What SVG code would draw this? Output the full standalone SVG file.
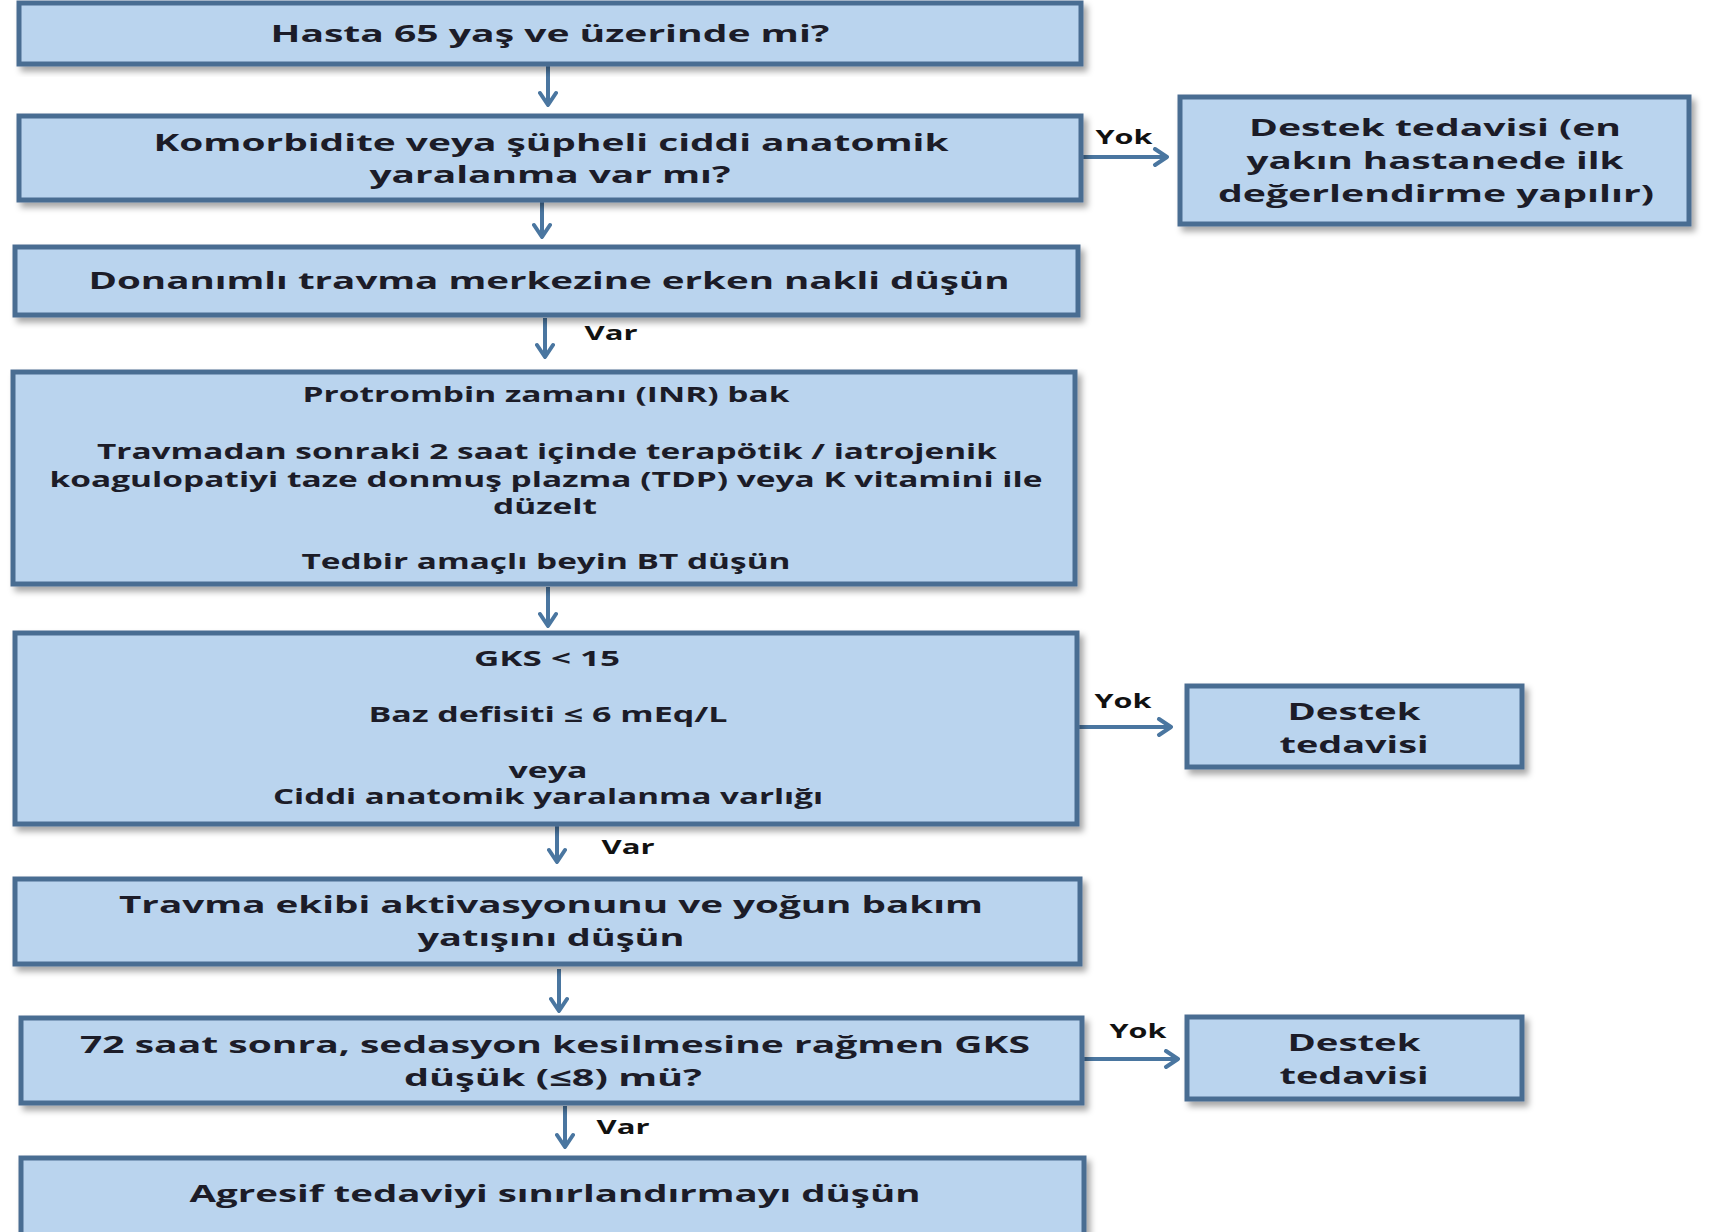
<svg xmlns="http://www.w3.org/2000/svg" width="1729" height="1232" viewBox="0 0 1729 1232">
<defs>
<filter id="sh" x="-5%" y="-10%" width="110%" height="130%">
<feDropShadow dx="4" dy="5" stdDeviation="3" flood-color="#000" flood-opacity="0.35"/>
</filter>
<marker id="ah" viewBox="0 0 20 20" refX="18" refY="10" markerWidth="20" markerHeight="20" markerUnits="userSpaceOnUse" orient="auto">
<polyline points="6,2 18,10 6,18" fill="none" stroke="#4a76a0" stroke-width="4" stroke-linecap="round" stroke-linejoin="round"/>
</marker>
</defs>
<style>
.box{fill:#bad4ee;stroke:#4a6d92;stroke-width:5;filter:url(#sh)}
.t{font-family:"Open Sans","Noto Sans","DejaVu Sans",sans-serif;font-weight:700;font-size:24px;fill:#1c1c28;text-anchor:middle}
.s{font-size:21px}
.lb{font-family:"Open Sans","Noto Sans","DejaVu Sans",sans-serif;font-weight:700;font-size:19px;fill:#111;text-anchor:middle}
.c{stroke:#4a76a0;stroke-width:4;fill:none;marker-end:url(#ah)}
</style>
<rect width="1729" height="1232" fill="#fff"/>
<g id="connectors">
<line class="c" x1="548" y1="66" x2="548" y2="105"/>
<line class="c" x1="1081" y1="157" x2="1167" y2="157"/>
<line class="c" x1="542" y1="202" x2="542" y2="237"/>
<line class="c" x1="545" y1="318" x2="545" y2="357"/>
<line class="c" x1="548" y1="587" x2="548" y2="626"/>
<line class="c" x1="1077" y1="727" x2="1171" y2="727"/>
<line class="c" x1="557" y1="826" x2="557" y2="862"/>
<line class="c" x1="559" y1="969" x2="559" y2="1011"/>
<line class="c" x1="1082" y1="1059" x2="1178" y2="1059"/>
<line class="c" x1="565" y1="1106" x2="565" y2="1147"/>
<text class="lb" x="1124" y="144" textLength="57" lengthAdjust="spacingAndGlyphs">Yok</text>
<text class="lb" x="611" y="340" textLength="53" lengthAdjust="spacingAndGlyphs">Var</text>
<text class="lb" x="1123" y="708" textLength="57" lengthAdjust="spacingAndGlyphs">Yok</text>
<text class="lb" x="628" y="854" textLength="53" lengthAdjust="spacingAndGlyphs">Var</text>
<text class="lb" x="1138" y="1038" textLength="57" lengthAdjust="spacingAndGlyphs">Yok</text>
<text class="lb" x="623" y="1134" textLength="53" lengthAdjust="spacingAndGlyphs">Var</text>
</g>
<g id="n1">
<rect class="box" x="19" y="3" width="1062" height="61"/>
<text class="t" x="550" y="42" textLength="559" lengthAdjust="spacingAndGlyphs">Hasta 65 yaş ve üzerinde mi?</text>
</g>
<g id="n2">
<rect class="box" x="19" y="116" width="1062" height="84"/>
<text class="t" x="551" y="151" textLength="795" lengthAdjust="spacingAndGlyphs">Komorbidite veya şüpheli ciddi anatomik</text>
<text class="t" x="550" y="183" textLength="361" lengthAdjust="spacingAndGlyphs">yaralanma var mı?</text>
</g>
<g id="n2b">
<rect class="box" x="1180" y="97" width="509" height="127"/>
<text class="t" x="1435" y="136" textLength="372" lengthAdjust="spacingAndGlyphs">Destek tedavisi (en</text>
<text class="t" x="1435" y="169" textLength="377" lengthAdjust="spacingAndGlyphs">yakın hastanede ilk</text>
<text class="t" x="1436" y="202" textLength="436" lengthAdjust="spacingAndGlyphs">değerlendirme yapılır)</text>
</g>
<g id="n3">
<rect class="box" x="15" y="247" width="1063" height="68"/>
<text class="t" x="549" y="289" textLength="921" lengthAdjust="spacingAndGlyphs">Donanımlı travma merkezine erken nakli düşün</text>
</g>
<g id="n4">
<rect class="box" x="13" y="372" width="1062" height="212"/>
<text class="t s" x="546" y="402" textLength="487" lengthAdjust="spacingAndGlyphs">Protrombin zamanı (INR) bak</text>
<text class="t s" x="547" y="459" textLength="900" lengthAdjust="spacingAndGlyphs">Travmadan sonraki 2 saat içinde terapötik / iatrojenik</text>
<text class="t s" x="546" y="487" textLength="993" lengthAdjust="spacingAndGlyphs">koagulopatiyi taze donmuş plazma (TDP) veya K vitamini ile</text>
<text class="t s" x="545" y="514" textLength="104" lengthAdjust="spacingAndGlyphs">düzelt</text>
<text class="t s" x="546" y="569" textLength="489" lengthAdjust="spacingAndGlyphs">Tedbir amaçlı beyin BT düşün</text>
</g>
<g id="n5">
<rect class="box" x="15" y="633" width="1062" height="191"/>
<text class="t s" x="547" y="666" textLength="146" lengthAdjust="spacingAndGlyphs">GKS &lt; 15</text>
<text class="t s" x="548" y="722" textLength="359" lengthAdjust="spacingAndGlyphs">Baz defisiti ≤ 6 mEq/L</text>
<text class="t s" x="548" y="778" textLength="79" lengthAdjust="spacingAndGlyphs">veya</text>
<text class="t s" x="548" y="804" textLength="550" lengthAdjust="spacingAndGlyphs">Ciddi anatomik yaralanma varlığı</text>
</g>
<g id="n5b">
<rect class="box" x="1187" y="686" width="335" height="81"/>
<text class="t" x="1354" y="720" textLength="133" lengthAdjust="spacingAndGlyphs">Destek</text>
<text class="t" x="1354" y="753" textLength="149" lengthAdjust="spacingAndGlyphs">tedavisi</text>
</g>
<g id="n6">
<rect class="box" x="15" y="879" width="1065" height="85"/>
<text class="t" x="551" y="913" textLength="864" lengthAdjust="spacingAndGlyphs">Travma ekibi aktivasyonunu ve yoğun bakım</text>
<text class="t" x="551" y="946" textLength="267" lengthAdjust="spacingAndGlyphs">yatışını düşün</text>
</g>
<g id="n7">
<rect class="box" x="21" y="1018" width="1061" height="85"/>
<text class="t" x="555" y="1053" textLength="950" lengthAdjust="spacingAndGlyphs">72 saat sonra, sedasyon kesilmesine rağmen GKS</text>
<text class="t" x="553" y="1086" textLength="298" lengthAdjust="spacingAndGlyphs">düşük (≤8) mü?</text>
</g>
<g id="n7b">
<rect class="box" x="1187" y="1017" width="335" height="82"/>
<text class="t" x="1354" y="1051" textLength="133" lengthAdjust="spacingAndGlyphs">Destek</text>
<text class="t" x="1354" y="1084" textLength="149" lengthAdjust="spacingAndGlyphs">tedavisi</text>
</g>
<g id="n8">
<rect class="box" x="21" y="1158" width="1063" height="84"/>
<text class="t" x="555" y="1202" textLength="731" lengthAdjust="spacingAndGlyphs">Agresif tedaviyi sınırlandırmayı düşün</text>
</g>
</svg>
